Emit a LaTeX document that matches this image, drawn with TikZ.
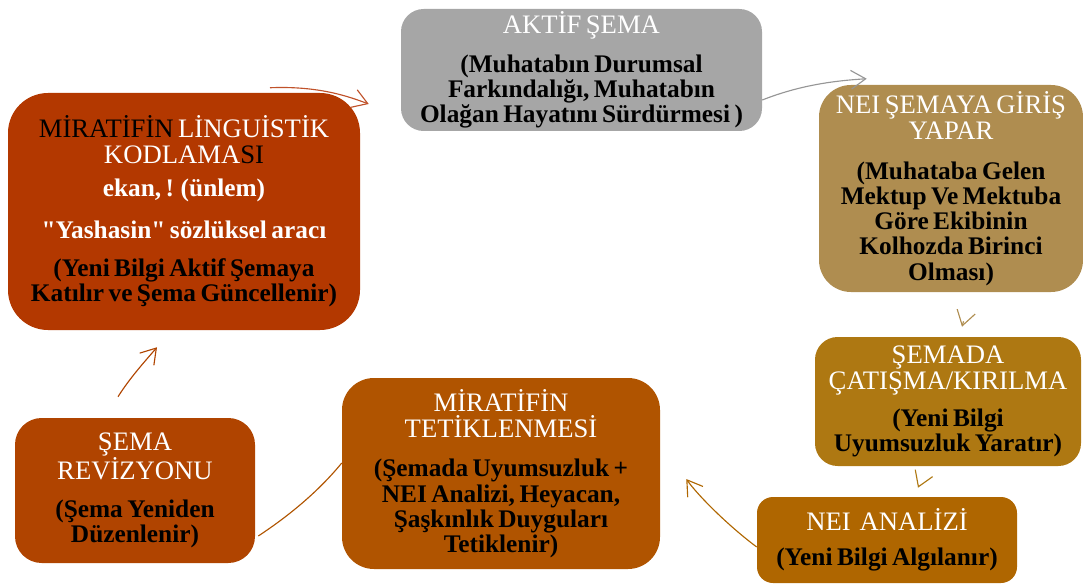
\documentclass[tikz,border=0pt]{standalone}
\usepackage{fontspec}
\setmainfont{Liberation Serif}[Ligatures=TeXOff]
\usetikzlibrary{arrows.meta}

\definecolor{cRed}{RGB}{179,56,0}
\definecolor{cGrey}{RGB}{166,166,166}
\definecolor{cSand}{RGB}{175,141,80}
\definecolor{cGold}{RGB}{174,120,18}
\definecolor{cAmber}{RGB}{175,102,0}
\definecolor{cOrange}{RGB}{176,84,0}
\definecolor{cRust}{RGB}{176,68,0}
\definecolor{aRed}{RGB}{192,82,42}
\definecolor{aGrey}{RGB}{150,150,150}

% header lines (white, regular) and body lines (black, bold)
\newcommand\hdf{\fontsize{20}{19.5}\selectfont\mdseries\color{white}}
\newcommand\bdf{\fontsize{19}{18.9}\selectfont\bfseries\color{black}}

\begin{document}
\begin{tikzpicture}[x=0.75pt,y=-0.75pt,
  card/.style={rounded corners=#1, inner sep=0pt, align=center, anchor=center},
  link/.style={line width=0.85pt, -{Straight Barb[length=11pt,width=14pt,line width=0.85pt]}},
  plain/.style={line width=0.85pt}
]
\useasboundingbox (0,0) rectangle (1083,585);

% ---- boxes ----
\node[card=30pt, fill=cRed, text width=264pt, minimum height=177.75pt] (red) at (184,211.5)
  {{\hdf \textcolor{black}{MİRATİFİN} LİNGUİSTİK\\KODLAMA\textcolor{black}{SI}\par}
   \vspace{6pt}
   {\bdf\color{white} ekan, ! (ünlem)\par}
   \vspace{12pt}
   {\bdf\color{white} "Yashasin" sözlüksel aracı\par}
   \vspace{10pt}
   {\bdf (Yeni Bilgi Aktif Şemaya\\Katılır ve Şema Güncellenir)\par}};

\node[card=17pt, fill=cGrey, text width=270.75pt, minimum height=91.5pt] (grey) at (581.5,70)
  {{\hdf AKTİF ŞEMA\par}
   \vspace{9.75pt}
   {\bdf (Muhatabın Durumsal\\Farkındalığı, Muhatabın\\Olağan Hayatını Sürdürmesi )\par}};

\node[card=24pt, fill=cSand, text width=198pt, minimum height=155.25pt] (nei) at (951,188.5)
  {{\hdf NEI ŞEMAYA GİRİŞ\\YAPAR\par}
   \vspace{11pt}
   {\bdf (Muhataba Gelen\\Mektup Ve Mektuba\\Göre Ekibinin\\Kolhozda Birinci\\Olması)\par}};

\node[card=17pt, fill=cGold, text width=199.5pt, minimum height=96.75pt] (sem) at (948,401.5)
  {{\hdf ŞEMADA\\ÇATIŞMA/KIRILMA\par}
   \vspace{9pt}
   {\bdf (Yeni Bilgi\\Uyumsuzluk Yaratır)\par}};

\node[card=12pt, fill=cAmber, text width=195pt, minimum height=64.5pt] (ana) at (887,540)
  {{\hdf NEI\ \ ANALİZİ\par}
   \vspace{7.5pt}
   {\bdf (Yeni Bilgi Algılanır)\par}};

\node[card=24pt, fill=cOrange, text width=238.5pt, minimum height=143.25pt] (tet) at (501,473.5)
  {{\hdf MİRATİFİN\\TETİKLENMESİ\par}
   \vspace{11pt}
   {\bdf (Şemada Uyumsuzluk +\\NEI Analizi, Heyacan,\\Şaşkınlık Duyguları\\Tetiklenir)\par}};

\node[card=20pt, fill=cRust, text width=180pt, minimum height=108.75pt] (rev) at (135,490.5)
  {{\hdf ŞEMA\\REVİZYONU\par}
   \vspace{9.75pt}
   {\bdf (Şema Yeniden\\Düzenlenir)\par}};

% ---- connectors ----
\draw[link, aRed] ([shift={(86,-5)}]red.north)
  .. controls +(50,-2) and +(-19,-7) .. ([shift={(-32,34)}]grey.west);
\draw[link, aGrey] ([shift={(0,30)}]grey.east)
  .. controls +(38,-15) and +(-32,2) .. ([shift={(48,-6)}]nei.north west);
\draw[link, cSand] ([shift={(12.5,29)}]nei.south) -- ([shift={(14,-10)}]sem.north);
\draw[link, cGold] ([shift={(-29,19)}]sem.south) -- ([shift={(31,-9)}]ana.north);
\draw[link, cAmber] ([shift={(0,7)}]ana.west)
  .. controls +(-27,-20) and +(12,17) .. ([shift={(26,5.5)}]tet.east);
\draw[plain, cOrange] ([shift={(0,-10.5)}]tet.west)
  .. controls +(-22,27) and +(32,-21) .. ([shift={(3,45.5)}]rev.east);
\draw[link, cRust] ([shift={(-17,-21)}]rev.north)
  .. controls +(12,-19) and +(-12,14) .. ([shift={(-27,17)}]red.south);
\end{tikzpicture}
\end{document}
